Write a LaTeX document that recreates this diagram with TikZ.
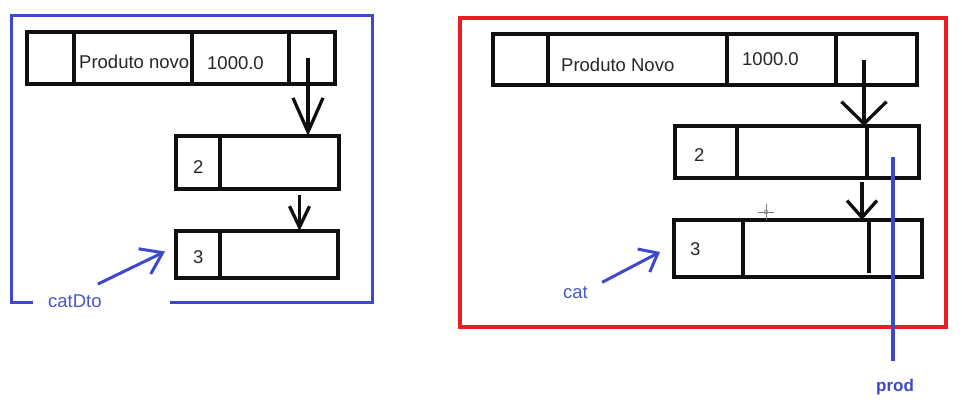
\documentclass[tikz,border=0pt]{standalone}
\usepackage{fontspec}
\setmainfont{Liberation Sans}
\usetikzlibrary{arrows.meta}
\usetikzlibrary{calc}
\definecolor{penblue}{RGB}{63,72,204}
\definecolor{inkblue}{RGB}{72,88,196}
\definecolor{framered}{RGB}{237,28,36}
\definecolor{inkblack}{RGB}{15,15,15}

\begin{document}
\begin{tikzpicture}[x=1pt,y=-1pt,
  cell/.style={draw=inkblack,line width=3.3pt,inner sep=0pt,outer sep=0pt,anchor=north west},
  txt/.style={anchor=base west,inner sep=0pt,text=black!85,font=\fontsize{18.5}{20}\selectfont},
  ptr/.style={draw=inkblack,line width=3.3pt},
  pen/.style={draw=penblue,line width=3pt}]
\fill[white] (0,0) rectangle (962,407);
\useasboundingbox (0,0) rectangle (962,407);

\draw[pen] (33,302) -- (11,302) -- (11,15) -- (372,15) -- (372,302) -- (170,302);
\node[cell,minimum width=47pt,minimum height=52pt] (lp1) at (27,32) {};
\node[cell,minimum width=118pt,minimum height=52pt] (lp2) at (lp1.north east) {};
\node[cell,minimum width=97pt,minimum height=52pt] (lp3) at (lp2.north east) {};
\node[cell,minimum width=46pt,minimum height=52pt] (lp4) at (lp3.north east) {};
\node[cell,minimum width=44pt,minimum height=53pt] (lr2a) at (176,136) {};
\node[cell,minimum width=119pt,minimum height=53pt] (lr2b) at (lr2a.north east) {};
\node[cell,minimum width=44pt,minimum height=47pt] (lr3a) at (176,231) {};
\node[cell,minimum width=118pt,minimum height=47pt] (lr3b) at (lr3a.north east) {};
\node[txt] (lname) at (79,68) {Produto novo};
\node[txt] (lprice) at (207,69) {1000.0};
\node[txt] (lnum2) at (193,173) {2};
\node[txt] (lnum3) at (193,263) {3};
\node[txt,text=inkblue] (catdto) at (48,307) {catDto};
\coordinate (la1) at ([xshift=-4pt]lp4.center);
\coordinate (la2) at ([shift={(20pt,-6pt)}]lr2b.south);
\draw[ptr,-{Straight Barb[length=34pt,width=30pt]}] (la1) -- (la1 |- lr2b.north);
\draw[ptr,-{Straight Barb[length=21pt,width=20pt]}] (la2) -- (la2 |- lr3b.north);
\draw[pen,-{Straight Barb[length=20pt,width=28pt]}] ([shift={(-4pt,10pt)}]catdto.north east) -- ([shift={(-11pt,3pt)}]lr3a.west);

\draw[draw=framered,line width=4.5pt] (460,18) rectangle (946,327);
\node[cell,minimum width=55pt,minimum height=51pt] (rp1) at (493,34) {};
\node[cell,minimum width=179pt,minimum height=51pt] (rp2) at (rp1.north east) {};
\node[cell,minimum width=109pt,minimum height=51pt] (rp3) at (rp2.north east) {};
\node[cell,minimum width=81pt,minimum height=51pt] (rp4) at (rp3.north east) {};
\node[cell,minimum width=62pt,minimum height=52pt] (rr2a) at (675,126) {};
\node[cell,minimum width=130pt,minimum height=52pt] (rr2b) at (rr2a.north east) {};
\node[cell,minimum width=52pt,minimum height=52pt] (rr2c) at (rr2b.north east) {};
\node[cell,minimum width=69pt,minimum height=57pt] (rr3a) at (674,220) {};
\node[cell,minimum width=179pt,minimum height=57pt] (rr3b) at (rr3a.north east) {};
\draw[ptr] (869,220) -- (869,273);
\node[txt] (rname) at (561,71) {Produto Novo};
\node[txt] (rprice) at (742,65) {1000.0};
\node[txt] (rnum2) at (694,161) {2};
\node[txt] (rnum3) at (690,255) {3};
\node[txt,text=inkblue] (cat) at (563,298) {cat};
\node[txt,text=penblue,font=\bfseries\fontsize{17}{20}\selectfont] (prod) at (876,391) {prod};
\coordinate (ra1) at ([xshift=-3pt]rr2c.north west);
\coordinate (ra2) at ([shift={(-5pt,-4pt)}]rr2c.south west);
\draw[ptr,-{Straight Barb[length=22pt,width=45pt]}] (ra1 |- rp4.center) -- (ra1);
\draw[ptr,-{Straight Barb[length=17pt,width=30pt]}] (ra2) -- (ra2 |- rr3b.north);
\draw[pen,-{Straight Barb[length=16pt,width=26pt]}] ([shift={(14pt,3.5pt)}]cat.north east) -- ([shift={(-14pt,-3.5pt)}]rr3a.west);
\coordinate (prodtop) at (893,157);
\draw[pen,line width=4pt,shorten >=17pt] (prodtop) -- (prodtop |- prod.north);

\draw[gray,line width=0.8pt] (758,212) -- (774,212) (766,204) -- (766,220);
\draw[gray,line width=0.6pt] (766,212) circle (2);
\end{tikzpicture}
\end{document}
